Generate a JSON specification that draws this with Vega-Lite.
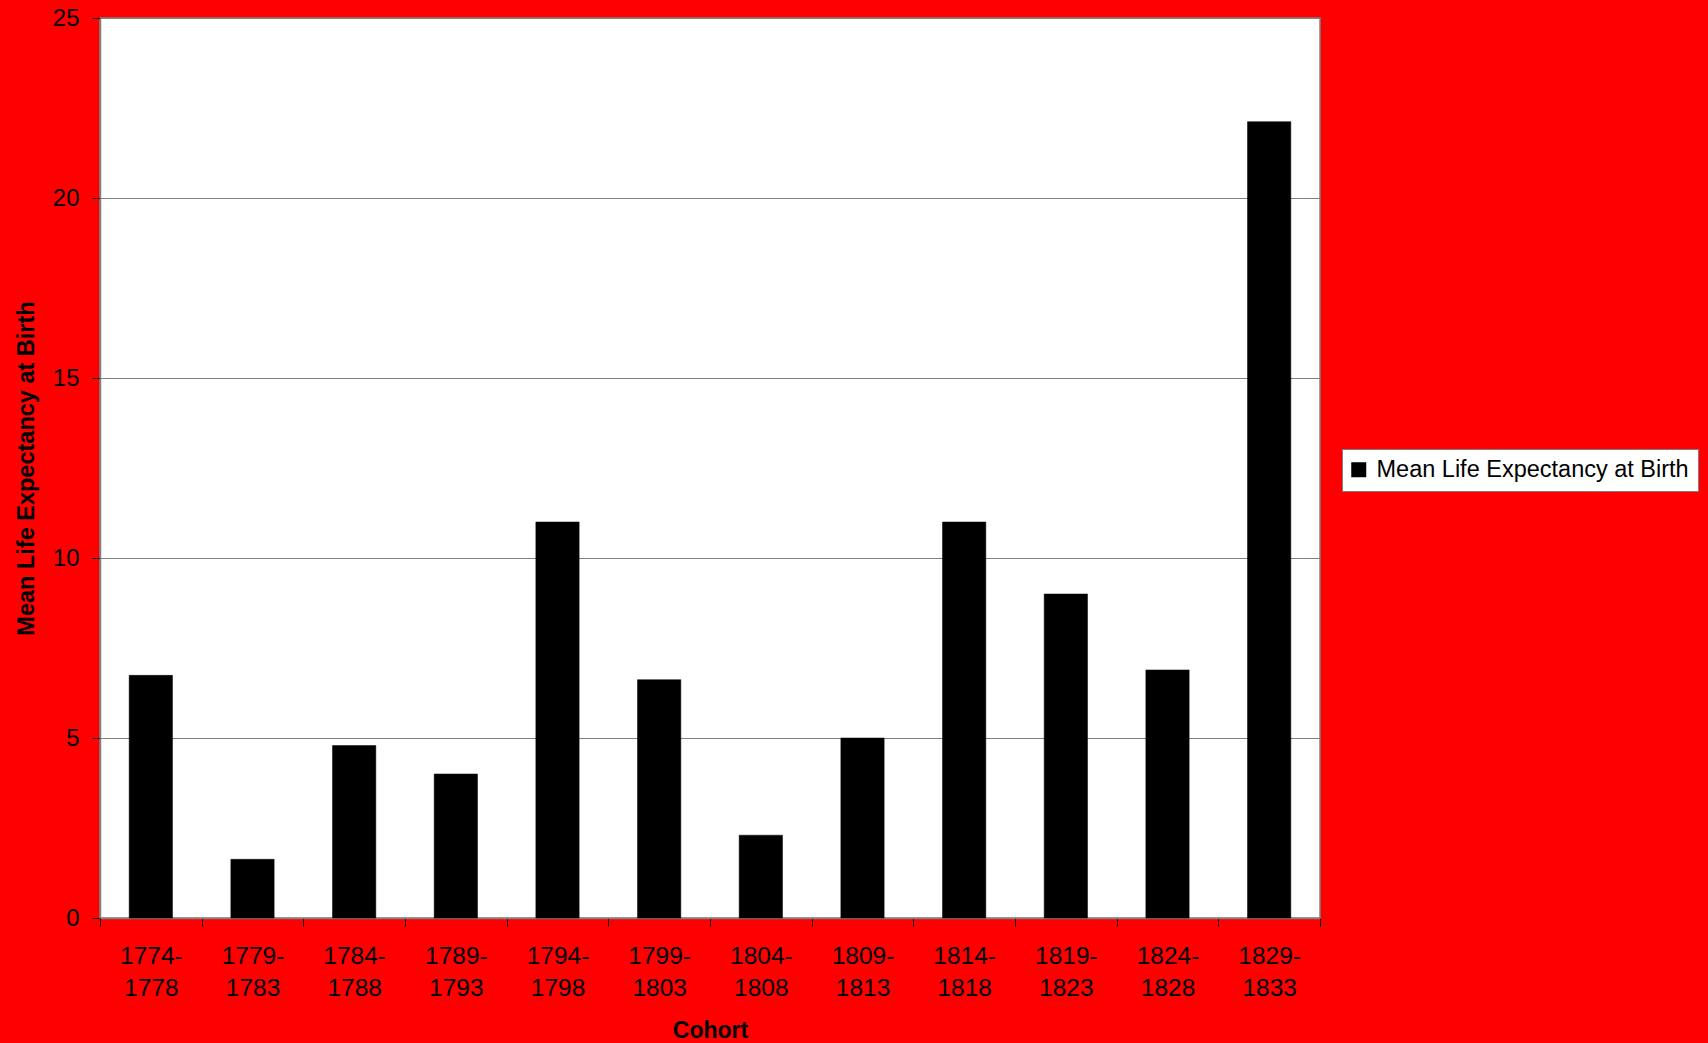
{
  "$schema": "https://vega.github.io/schema/vega-lite/v6.json",
  "autosize": {"type": "none"},
  "width": 1220,
  "height": 900,
  "padding": {"left": 100, "top": 18, "right": 388, "bottom": 125},
  "background": "#ff0000",
  "config": {
    "font": "Liberation Sans",
    "view": {"fill": "#ffffff", "stroke": "#808080", "strokeWidth": 1.5}
  },
  "data": {
    "values": [
      {"cohort": "1774-1778", "life": 6.74, "series": "Mean Life Expectancy at Birth"},
      {"cohort": "1779-1783", "life": 1.63, "series": "Mean Life Expectancy at Birth"},
      {"cohort": "1784-1788", "life": 4.79, "series": "Mean Life Expectancy at Birth"},
      {"cohort": "1789-1793", "life": 4.0, "series": "Mean Life Expectancy at Birth"},
      {"cohort": "1794-1798", "life": 11.0, "series": "Mean Life Expectancy at Birth"},
      {"cohort": "1799-1803", "life": 6.62, "series": "Mean Life Expectancy at Birth"},
      {"cohort": "1804-1808", "life": 2.3, "series": "Mean Life Expectancy at Birth"},
      {"cohort": "1809-1813", "life": 5.0, "series": "Mean Life Expectancy at Birth"},
      {"cohort": "1814-1818", "life": 11.0, "series": "Mean Life Expectancy at Birth"},
      {"cohort": "1819-1823", "life": 9.0, "series": "Mean Life Expectancy at Birth"},
      {"cohort": "1824-1828", "life": 6.89, "series": "Mean Life Expectancy at Birth"},
      {"cohort": "1829-1833", "life": 22.12, "series": "Mean Life Expectancy at Birth"}
    ]
  },
  "mark": {"type": "bar", "width": {"band": 0.426}, "stroke": "#000000", "strokeWidth": 0.5},
  "encoding": {
    "x": {
      "field": "cohort",
      "type": "ordinal",
      "sort": null,
      "title": "Cohort",
      "scale": {"paddingInner": 0, "paddingOuter": 0},
      "axis": {
        "tickBand": "extent",
        "labelAngle": 0,
        "labelExpr": "datum.value ? [split(datum.value, '-')[0] + '-', split(datum.value, '-')[1]] : ''",
        "labelFontSize": 24.5,
        "labelLineHeight": 32,
        "labelColor": "#000000",
        "labelPadding": 18,
        "labelBaseline": "top",
        "tickSize": 8,
        "tickColor": "#000000",
        "domainColor": "#808080",
        "domainWidth": 1.5,
        "titleFontSize": 23,
        "titleFontWeight": "bold",
        "titleColor": "#000000",
        "titlePadding": 20,
        "grid": false
      }
    },
    "y": {
      "field": "life",
      "type": "quantitative",
      "title": "Mean Life Expectancy at Birth",
      "scale": {"domain": [0, 25], "nice": false},
      "axis": {
        "values": [0, 5, 10, 15, 20, 25],
        "labelFontSize": 24,
        "labelColor": "#000000",
        "labelPadding": 13,
        "tickSize": 8,
        "tickColor": "#000000",
        "domainColor": "#808080",
        "domainWidth": 1.5,
        "grid": true,
        "gridColor": "#808080",
        "gridWidth": 1.2,
        "titleFontSize": 23.5,
        "titleFontWeight": "bold",
        "titleColor": "#000000",
        "titlePadding": 14
      }
    },
    "color": {
      "field": "series",
      "type": "nominal",
      "scale": {"range": ["#000000"]},
      "legend": {
        "title": null,
        "orient": "none",
        "legendX": 1242,
        "legendY": 431,
        "fillColor": "#ffffff",
        "strokeColor": "#808080",
        "padding": 9,
        "symbolType": "square",
        "symbolSize": 225,
        "symbolStrokeWidth": 0,
        "symbolOffset": -4,
        "labelFontSize": 23.5,
        "labelColor": "#000000",
        "labelOffset": 6,
        "labelLimit": 500
      }
    }
  }
}
